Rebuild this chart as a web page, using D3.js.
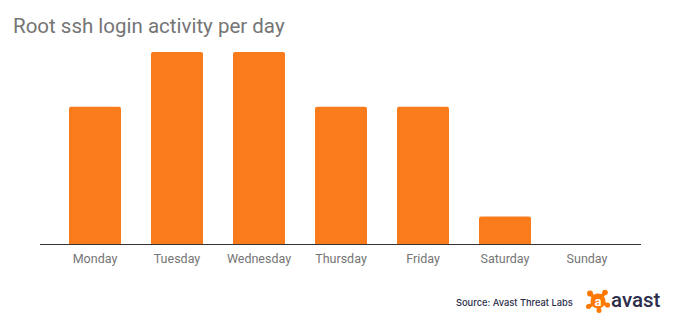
<!DOCTYPE html>
<html><head><meta charset="utf-8">
<script src="https://cdn.jsdelivr.net/npm/d3@7"></script>
<style>body{margin:0;background:#fff}svg{display:block}</style>
</head><body>
<script>
const title = "Root ssh login activity per day";
const days = ["Monday","Tuesday","Wednesday","Thursday","Friday","Saturday","Sunday"];
const logins = [5,7,7,5,5,1,0];
const source = "Source: Avast Threat Labs";

const W = 680, H = 325;
const svg = d3.select("body").append("svg").attr("width", W).attr("height", H);
svg.append("rect").attr("width", W).attr("height", H).attr("fill", "#fff");

svg.append("text").attr("x", 13).attr("y", 33)
  .attr("font-family", "Roboto, sans-serif").attr("font-size", 20.5)
  .attr("fill", "#757575").text(title);

const x = d3.scaleBand().domain(days).range([54, 628]).paddingInner(0.366).paddingOuter(0.183);
const y = d3.scaleLinear().domain([0, 7]).range([244, 52]);

svg.append("g").selectAll("path").data(days).join("path")
  .attr("fill", "#fa7b1c")
  .attr("d", (d, i) => {
    const x0 = x(d), w = x.bandwidth(), y0 = y(logins[i]), yb = y(0);
    if (logins[i] === 0) return "";
    const r = 2;
    return `M${x0},${yb}V${y0 + r}Q${x0},${y0} ${x0 + r},${y0}H${x0 + w - r}Q${x0 + w},${y0} ${x0 + w},${y0 + r}V${yb}Z`;
  });

const ax = svg.append("g").attr("transform", `translate(0,${y(0)})`)
  .call(d3.axisBottom(x).tickSize(0).tickPadding(10));
ax.select(".domain").attr("d", "M40,0.5H641").attr("stroke", "#333").attr("stroke-width", 1);
ax.selectAll("text").attr("font-family", "Roboto, sans-serif").attr("font-size", 12.5).attr("fill", "#757575");

svg.append("text").attr("x", 456).attr("y", 306)
  .attr("font-family", "Inter, Roboto, sans-serif").attr("font-size", 9.3).attr("font-weight", 500)
  .attr("fill", "#2c2d4a").text(source);

// avast logo
const logo = svg.append("g").attr("transform", "translate(598,301)");
logo.append("circle").attr("r", 7.5).attr("fill", "#ff7800");
[[-8,-7.5,3],[7,-8.5,2.8],[9.5,4,2.6],[-9.5,5.5,2.5],[1,9.5,2.5]].forEach(([cx,cy,r]) => {
  logo.append("circle").attr("cx", cx).attr("cy", cy).attr("r", r).attr("fill", "#ff7800");
  logo.append("line").attr("x1", 0).attr("y1", 0).attr("x2", cx).attr("y2", cy)
    .attr("stroke", "#ff7800").attr("stroke-width", 3.5);
});
logo.append("text").attr("x", 0).attr("y", 4.5).attr("text-anchor", "middle")
  .attr("font-family", "Roboto, sans-serif").attr("font-size", 13).attr("font-weight", 700)
  .attr("fill", "#fff").text("a");
svg.append("text").attr("x", 611).attr("y", 307)
  .attr("font-family", "Roboto, sans-serif").attr("font-size", 20.5).attr("font-weight", 500)
  .attr("fill", "#2c2d4a").text("avast");
</script>
</body></html>
